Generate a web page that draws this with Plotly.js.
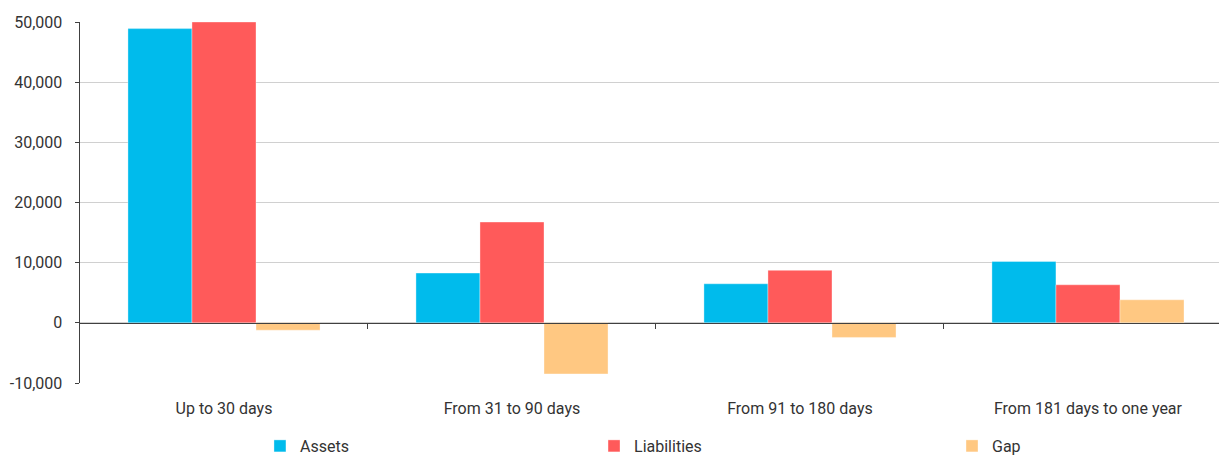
<!DOCTYPE html>
<html>
<head>
<meta charset="utf-8">
<script src="https://cdn.plot.ly/plotly-3.0.1.min.js"></script>
<style>html,body{margin:0;padding:0;background:#fff;}#chart{width:1219px;height:459px;}</style>
</head>
<body>
<div id="chart"></div>
<script>
const categories = ["Up to 30 days", "From 31 to 90 days", "From 91 to 180 days", "From 181 days to one year"];
const assets = [48900, 8270, 6490, 10200];
const liabilities = [50000, 16750, 8720, 6320];
const gap = [-1220, -8490, -2430, 3830];
const yTickVals = [-10000, 0, 10000, 20000, 30000, 40000, 50000];
const yTickText = ["-10,000", "0", "10,000", "20,000", "30,000", "40,000", "50,000"];

const FONT = "Roboto, 'Open Sans', sans-serif";
const TXT = "#333333";

const traces = [
  {type: "bar", name: "Assets", x: categories, y: assets, marker: {color: "#00BBEC", line: {color: "rgba(255,255,255,0.35)", width: 1}}, legend: "legend", hoverinfo: "y"},
  {type: "bar", name: "Liabilities", x: categories, y: liabilities, marker: {color: "#FF5A5A", line: {color: "rgba(255,255,255,0.35)", width: 1}}, legend: "legend2", hoverinfo: "y"},
  {type: "bar", name: "Gap", x: categories, y: gap, marker: {color: "#FFC882", line: {color: "rgba(255,255,255,0.35)", width: 1}}, legend: "legend3", hoverinfo: "y"},
  // invisible helper on the overlay axis so it draws the zero baseline with category-boundary ticks
  {type: "scatter", x: [0, 3], y: [0, 0], xaxis: "x2", yaxis: "y", mode: "none", showlegend: false, hoverinfo: "skip"}
];

const xRange = [-0.5, 3.455];
const legendCommon = {orientation: "h", yanchor: "middle", xanchor: "left", y: -0.1745, font: {family: FONT, size: 16, color: TXT}, bgcolor: "rgba(0,0,0,0)", itemclick: false};

const layout = {
  width: 1219, height: 459,
  margin: {l: 80, r: 0, t: 22, b: 76, autoexpand: false},
  paper_bgcolor: "#ffffff", plot_bgcolor: "#ffffff",
  font: {family: FONT, size: 16, color: TXT},
  barmode: "group",
  bargap: 0.333, bargroupgap: 0,
  xaxis: {
    range: xRange, type: "category", showgrid: false, zeroline: false, showline: false,
    ticks: "", ticklabelstandoff: 14, tickfont: {family: FONT, size: 16, color: TXT}
  },
  xaxis2: {
    overlaying: "x", anchor: "free", position: 1/6, range: xRange, type: "linear",
    showgrid: false, zeroline: false, showline: true, linecolor: "#404040", linewidth: 1.5,
    tickmode: "array", tickvals: [0.5, 1.5, 2.5], ticks: "outside", ticklen: 5, tickcolor: "#404040", tickwidth: 1,
    showticklabels: false
  },
  yaxis: {
    range: [-10000, 50000], tickmode: "array", tickvals: yTickVals, ticktext: yTickText,
    showgrid: true, gridcolor: "#D0D0D0", gridwidth: 1.3,
    zeroline: false, showline: true, linecolor: "#404040", linewidth: 1.5,
    ticks: "outside", ticklen: 4, tickcolor: "#404040", ticklabelstandoff: 9,
    tickfont: {family: FONT, size: 16, color: TXT}
  },
  legend: Object.assign({}, legendCommon, {x: 0.1580}),
  legend2: Object.assign({}, legendCommon, {x: 0.4513}),
  legend3: Object.assign({}, legendCommon, {x: 0.7656}),
  showlegend: true
};

Plotly.newPlot("chart", traces, layout, {displayModeBar: false, staticPlot: true});
</script>
</body>
</html>
